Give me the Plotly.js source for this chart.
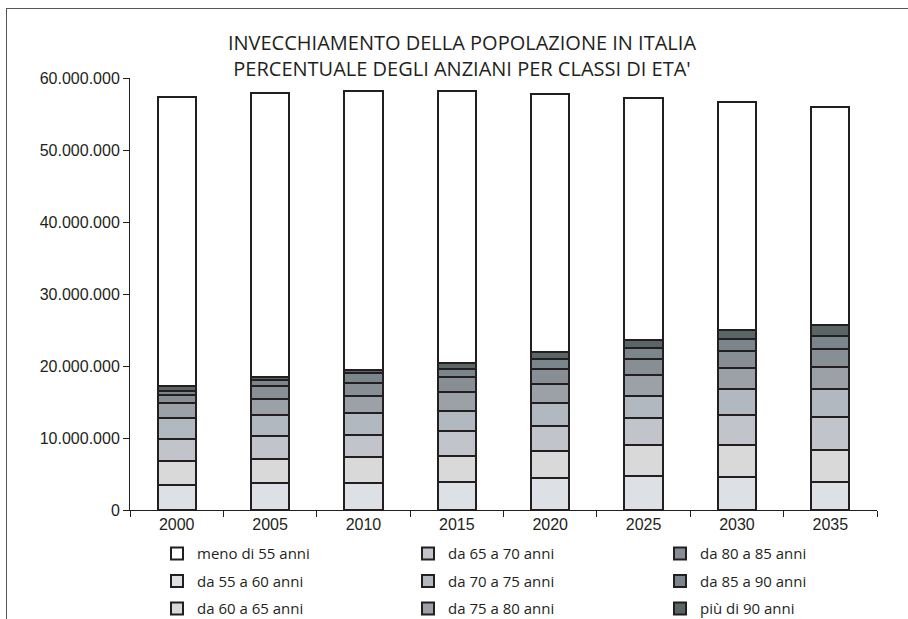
<!DOCTYPE html>
<html>
<head>
<meta charset="utf-8">
<script src="https://cdn.plot.ly/plotly-3.0.1.min.js"></script>
<style>
  html, body { margin: 0; padding: 0; background: #ffffff; }
  #wrap { position: relative; width: 908px; height: 619px; overflow: hidden; }
  #chart { position: absolute; left: 0; top: 0; width: 908px; height: 619px; }
  #frame { position: absolute; left: 6px; top: 8px; width: 910px; height: 620px;
           border-top: 1.5px solid #555; border-left: 1.5px solid #555; pointer-events: none; }
</style>
</head>
<body>
<div id="wrap"><div id="chart"></div><div id="frame"></div></div>
<script>
const years = ['2000', '2005', '2010', '2015', '2020', '2025', '2030', '2035'];

const seriesNames = [
  'da 55 a 60 anni', 'da 60 a 65 anni', 'da 65 a 70 anni', 'da 70 a 75 anni',
  'da 75 a 80 anni', 'da 80 a 85 anni', 'da 85 a 90 anni', 'più di 90 anni',
  'meno di 55 anni'
];

const da55a60 = [3470000, 3790000, 3700000, 3940000, 4490000, 4720000, 4540000, 3940000];
const da60a65 = [3380000, 3290000, 3610000, 3560000, 3750000, 4310000, 4490000, 4390000];
const da65a70 = [3050000, 3200000, 3110000, 3470000, 3430000, 3700000, 4160000, 4540000];
const da70a75 = [2810000, 2870000, 3010000, 2820000, 3230000, 3100000, 3570000, 3890000];
const da75a80 = [2190000, 2290000, 2400000, 2560000, 2600000, 2920000, 2920000, 3140000];
const da80a85 = [1070000, 1720000, 1850000, 2100000, 2080000, 2180000, 2400000, 2420000];
const da85a90 = [600000, 840000, 1280000, 1150000, 1370000, 1530000, 1620000, 1850000];
const piuDi90 = [630000, 500000, 490000, 850000, 1000000, 1140000, 1300000, 1520000];
const menoDi55 = [40200000, 39380000, 38790000, 37700000, 35790000, 33660000, 31710000, 30280000];

const yTicks = [0, 10000000, 20000000, 30000000, 40000000, 50000000, 60000000];

const seriesValues = [da55a60, da60a65, da65a70, da70a75, da75a80, da80a85, da85a90, piuDi90, menoDi55];
const colors = ['#dde0e5', '#d9d9da', '#c1c4cb', '#b1b8bf', '#9ba1a6', '#878e94', '#7b858c', '#5c6566', '#ffffff'];
const legendOf = ['legend', 'legend', 'legend2', 'legend2', 'legend2', 'legend3', 'legend3', 'legend3', 'legend'];
const ranks = [2, 3, 4, 5, 6, 7, 8, 9, 1];

const traces = seriesValues.map((vals, i) => ({
  type: 'bar',
  x: years,
  y: vals,
  name: seriesNames[i],
  legend: legendOf[i],
  legendrank: ranks[i],
  legendgroup: 'g' + i,
  marker: { color: colors[i], line: { color: '#231f20', width: 2 } },
  hoverinfo: 'skip'
}));

const legendFont = { family: 'Open Sans, sans-serif', size: 15, color: '#231f20' };
function legendAt(xpx) {
  return {
    x: (xpx - 130) / 747, xref: 'paper', xanchor: 'left',
    y: -0.063, yref: 'paper', yanchor: 'top',
    orientation: 'v', traceorder: 'grouped', tracegroupgap: 5,
    font: legendFont, bgcolor: 'rgba(0,0,0,0)', borderwidth: 0,
    itemclick: false, itemdoubleclick: false
  };
}

const tickFont = { family: 'Liberation Sans, Arial, sans-serif', size: 16, color: '#231f20' };

const layout = {
  width: 908, height: 619,
  margin: { l: 130, r: 31, t: 78, b: 109, autoexpand: false },
  paper_bgcolor: '#ffffff', plot_bgcolor: '#ffffff',
  barmode: 'stack', bargap: 0.59,
  separators: ',.',
  showlegend: true,
  title: {
    text: "INVECCHIAMENTO DELLA POPOLAZIONE IN ITALIA<br>PERCENTUALE DEGLI ANZIANI PER CLASSI DI ETA'",
    font: { family: 'Open Sans, sans-serif', size: 20, color: '#231f20' },
    x: 462 / 908, xref: 'container', xanchor: 'center',
    y: 1 - 50 / 619, yref: 'container', yanchor: 'middle'
  },
  xaxis: {
    type: 'category',
    showgrid: false, zeroline: false,
    showline: true, linecolor: '#231f20', linewidth: 1,
    ticks: 'outside', tickson: 'boundaries', ticklen: 6, tickcolor: '#231f20', tickwidth: 1,
    tickfont: tickFont,
    fixedrange: true
  },
  yaxis: {
    range: [0, 60000000],
    tickvals: yTicks,
    tickformat: ',d',
    showgrid: false, zeroline: false,
    showline: true, linecolor: '#231f20', linewidth: 1,
    ticks: 'outside', ticklen: 6, tickcolor: '#231f20', tickwidth: 1,
    tickfont: tickFont,
    fixedrange: true
  },
  legend: legendAt(157),
  legend2: legendAt(408),
  legend3: legendAt(660)
};

Plotly.newPlot('chart', traces, layout, { displayModeBar: false, staticPlot: true });
</script>
</body>
</html>
